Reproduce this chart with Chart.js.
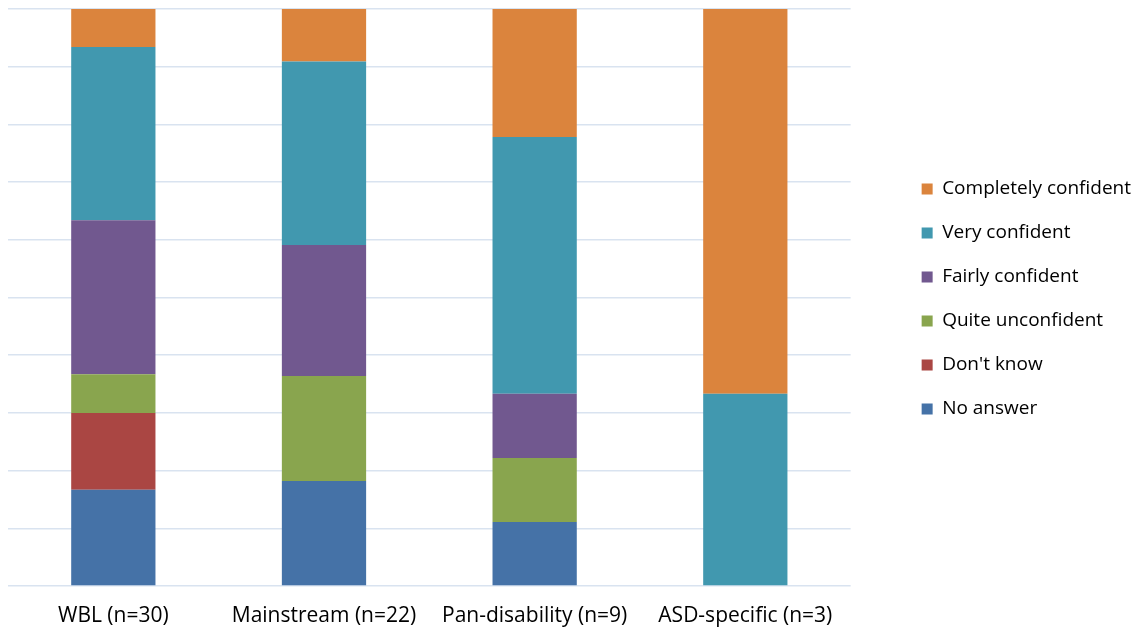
<!DOCTYPE html>
<html>
<head>
<meta charset="utf-8">
<script src="https://cdn.jsdelivr.net/npm/chart.js@4/dist/chart.umd.min.js"></script>
<style>
  html, body { margin: 0; padding: 0; background: #fff; }
  #wrap { width: 1146px; height: 632px; position: relative; }
</style>
</head>
<body>
<div id="wrap"><canvas id="chart"></canvas></div>
<script>
// groups and share of answers (%)
var groups = ['WBL (n=30)', 'Mainstream (n=22)', 'Pan-disability (n=9)', 'ASD-specific (n=3)'];
var noAnswer = [16.7, 18.2, 11.1, 0];
var dontKnow = [13.3, 0, 0, 0];
var quiteUnconfident = [6.7, 18.2, 11.1, 0];
var fairlyConfident = [26.7, 22.7, 11.1, 0];
var veryConfident = [30.0, 31.8, 44.5, 33.3];
var completelyConfident = [6.6, 9.1, 22.2, 66.7];

var font = '"Open Sans", sans-serif';

function ds(label, data, color) {
    return { label: label, data: data, backgroundColor: color, borderWidth: 0,
             categoryPercentage: 1, barPercentage: 0.4 };
}

// nudge the legend: it sits a bit away from the plot and is centred on the plot, not the canvas
var legendShift = {
    id: 'legendShift',
    afterLayout: function(chart) {
        var l = chart.legend;
        l.left += 46; l.right += 46;
        l.top -= 29; l.bottom -= 29;
    }
};

new Chart(document.getElementById('chart'), {
    type: 'bar',
    data: {
        labels: groups,
        datasets: [
            ds('No answer', noAnswer, '#4572A7'),
            ds("Don't know", dontKnow, '#AA4643'),
            ds('Quite unconfident', quiteUnconfident, '#89A54E'),
            ds('Fairly confident', fairlyConfident, '#71588F'),
            ds('Very confident', veryConfident, '#4198AF'),
            ds('Completely confident', completelyConfident, '#DB843D')
        ]
    },
    plugins: [legendShift],
    options: {
        responsive: true,
        maintainAspectRatio: false,
        animation: false,
        layout: { padding: { left: 8, top: 9, right: 51, bottom: -15 } },
        plugins: {
            tooltip: { enabled: false },
            legend: {
                position: 'right',
                reverse: true,
                labels: {
                    boxWidth: 11, boxHeight: 11, padding: 25,
                    color: '#000', font: { family: font, size: 19 }
                }
            }
        },
        scales: {
            x: {
                stacked: true,
                grid: { display: false, drawTicks: false },
                border: { display: false },
                ticks: { color: '#000', font: { family: font, size: 21, lineHeight: 1 }, padding: 20 }
            },
            y: {
                stacked: true,
                min: 0, max: 100,
                ticks: { stepSize: 10, display: false },
                border: { display: false },
                grid: { color: '#D9E3F0', lineWidth: 1.5, drawTicks: false }
            }
        }
    }
});
</script>
</body>
</html>
